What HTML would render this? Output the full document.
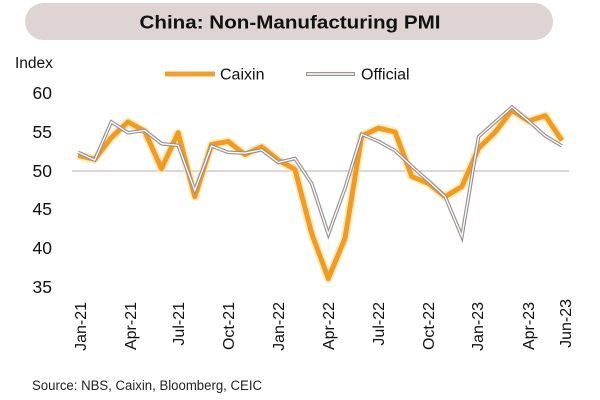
<!DOCTYPE html>
<html><head><meta charset="utf-8"><style>
html,body{margin:0;padding:0;background:#fff;}
svg{display:block;font-family:"Liberation Sans",sans-serif;}
</style></head><body>
<svg width="600" height="400" viewBox="0 0 600 400" xmlns="http://www.w3.org/2000/svg">
<rect x="0" y="0" width="600" height="400" fill="#fff"/>
<rect x="25" y="3" width="528" height="37" rx="18.5" fill="#DDD4D3"/>
<text x="290" y="28.5" text-anchor="middle" font-size="18.5" font-weight="bold" fill="#111" textLength="301" lengthAdjust="spacingAndGlyphs">China: Non-Manufacturing PMI</text>
<text x="15" y="68" font-size="15.5" fill="#111">Index</text>
<line x1="165" y1="74" x2="215" y2="74" stroke="#F0A030" stroke-width="5"/>
<text x="220" y="79.5" font-size="16" fill="#111">Caixin</text>
<line x1="306" y1="74" x2="355" y2="74" stroke="#9E9494" stroke-width="4"/>
<line x1="307" y1="74" x2="354" y2="74" stroke="#fff" stroke-width="1.5"/>
<text x="361" y="79.5" font-size="16" fill="#111">Official</text>
<g font-size="17.5" fill="#111" text-anchor="end">
<text x="52" y="99">60</text>
<text x="52" y="138">55</text>
<text x="52" y="177">50</text>
<text x="52" y="215">45</text>
<text x="52" y="254">40</text>
<text x="52" y="293">35</text>
</g>
<line x1="72" y1="171" x2="569" y2="171" stroke="#CFCACA" stroke-width="1.5"/>
<polyline fill="none" stroke="#FBE2A0" stroke-width="8.5" stroke-linejoin="round" opacity="0.7" points="78,155.4 94.69,159.3 111.38,137.5 128.07,121.9 144.76,131.2 161.45,168.7 178.14,132.8 194.83,196.7 211.52,144.5 228.21,141.4 244.9,154.6 261.59,146.8 278.28,160.1 294.97,169.4 311.66,233.4 328.35,278.6 345.04,238.1 361.73,135.9 378.42,128.1 395.11,132 411.8,176.5 428.49,183.5 445.18,196.7 461.87,186.6 478.56,148.4 495.25,132 511.94,110.2 528.63,121.1 545.32,115.6 562.01,140.6"/>
<polyline fill="none" stroke="#F29B22" stroke-width="5" stroke-linejoin="round" points="78,155.4 94.69,159.3 111.38,137.5 128.07,121.9 144.76,131.2 161.45,168.7 178.14,132.8 194.83,196.7 211.52,144.5 228.21,141.4 244.9,154.6 261.59,146.8 278.28,160.1 294.97,169.4 311.66,233.4 328.35,278.6 345.04,238.1 361.73,135.9 378.42,128.1 395.11,132 411.8,176.5 428.49,183.5 445.18,196.7 461.87,186.6 478.56,148.4 495.25,132 511.94,110.2 528.63,121.1 545.32,115.6 562.01,140.6"/>
<polyline fill="none" stroke="#9A8E8E" stroke-width="3.6" stroke-linejoin="miter" points="78,152.3 94.69,160.1 111.38,121.9 128.07,132.8 144.76,130.4 161.45,143.7 178.14,145.3 194.83,190.5 211.52,146 228.21,152.3 244.9,153.1 261.59,149.9 278.28,162.4 294.97,158.5 311.66,183.5 328.35,234.2 345.04,188.2 361.73,134.3 378.42,141.4 395.11,150.7 411.8,166.3 428.49,181.1 445.18,196.7 461.87,236.5 478.56,136.7 495.25,121.9 511.94,107 528.63,121.1 545.32,135.9 562.01,146"/>
<polyline fill="none" stroke="#fff" stroke-width="1.3" stroke-linejoin="miter" points="78,152.3 94.69,160.1 111.38,121.9 128.07,132.8 144.76,130.4 161.45,143.7 178.14,145.3 194.83,190.5 211.52,146 228.21,152.3 244.9,153.1 261.59,149.9 278.28,162.4 294.97,158.5 311.66,183.5 328.35,234.2 345.04,188.2 361.73,134.3 378.42,141.4 395.11,150.7 411.8,166.3 428.49,181.1 445.18,196.7 461.87,236.5 478.56,136.7 495.25,121.9 511.94,107 528.63,121.1 545.32,135.9 562.01,146"/>
<g font-size="16" fill="#111" text-anchor="end">
<text transform="translate(86,302) rotate(-90)">Jan-21</text>
<text transform="translate(136,302) rotate(-90)">Apr-21</text>
<text transform="translate(184,302) rotate(-90)">Jul-21</text>
<text transform="translate(234,302) rotate(-90)">Oct-21</text>
<text transform="translate(284,302) rotate(-90)">Jan-22</text>
<text transform="translate(334,302) rotate(-90)">Apr-22</text>
<text transform="translate(384,302) rotate(-90)">Jul-22</text>
<text transform="translate(434,302) rotate(-90)">Oct-22</text>
<text transform="translate(483,302) rotate(-90)">Jan-23</text>
<text transform="translate(534,302) rotate(-90)">Apr-23</text>
<text transform="translate(571,299) rotate(-90)">Jun-23</text>
</g>
<text x="32" y="390" font-size="13.5" fill="#222" textLength="230" lengthAdjust="spacingAndGlyphs">Source: NBS, Caixin, Bloomberg, CEIC</text>
</svg>
</body></html>
